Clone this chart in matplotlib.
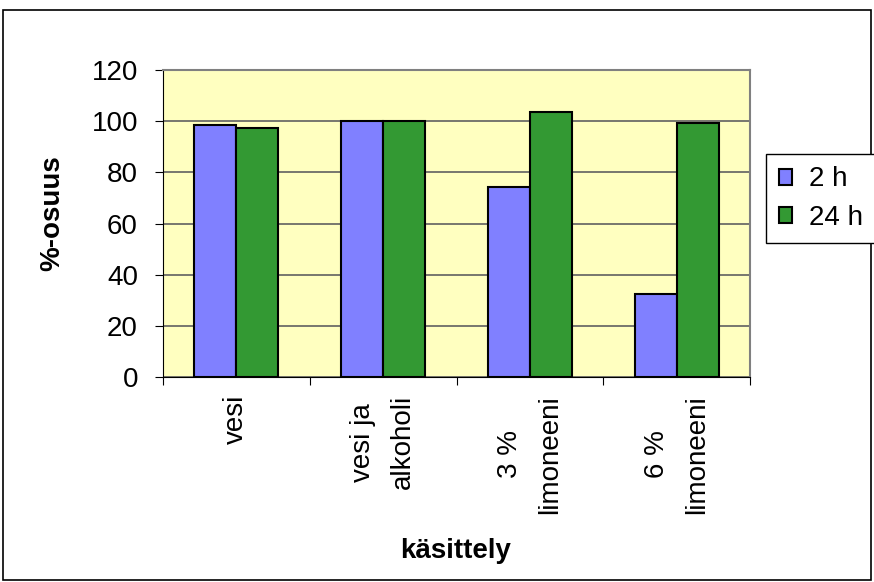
import matplotlib.pyplot as plt
import numpy as np
from matplotlib.patches import Rectangle

plt.rcParams['font.family'] = ['Liberation Sans', 'DejaVu Sans']

kasittely = ["vesi", "vesi ja\nalkoholi", "3 %\nlimoneeni", "6 %\nlimoneeni"]
h2 = [98.6, 100.0, 74.2, 32.4]
h24 = [97.2, 100.0, 103.5, 99.4]
sarjat = ["2 h", "24 h"]

W, H = 874, 582
fig = plt.figure(figsize=(W / 100, H / 100), dpi=100)
ax = fig.add_axes([163 / W, 1 - 377 / H, 587 / W, 307 / H])

# outer chart frame
fig.patches.append(Rectangle((3 / W, 2 / H), 868 / W, 570 / H, transform=fig.transFigure,
                             fill=False, edgecolor='black', linewidth=1.2))

ax.set_facecolor('#FFFFC0')
x = np.arange(len(kasittely))
w = 1 / 3.5
ax.bar(x - w / 2, h2, w, color='#8080FF', edgecolor='black', linewidth=1.5, label=sarjat[0], zorder=3)
ax.bar(x + w / 2, h24, w, color='#339933', edgecolor='black', linewidth=1.5, label=sarjat[1], zorder=3)

ax.set_xlim(-0.5, len(kasittely) - 0.5)
ax.set_ylim(0, 120)
ax.set_yticks(range(0, 121, 20))
ax.yaxis.grid(True, color='#606060', linewidth=1.2, zorder=1)
ax.set_axisbelow(True)

for s in ['top', 'right']:
    ax.spines[s].set_color('#808080')
    ax.spines[s].set_linewidth(1.5)
ax.spines['left'].set_color('black')
ax.spines['bottom'].set_color('black')

# category boundaries as major ticks, names on minor ticks
ax.set_xticks(np.arange(-0.5, len(kasittely)))
ax.set_xticklabels([])
ax.set_xticks(x, minor=True)
ax.set_xticklabels(kasittely, minor=True, rotation=90, ha='center', va='top',
                   multialignment='center', fontsize=20, linespacing=1.7)
ax.tick_params(axis='x', which='major', length=6, direction='out')
ax.tick_params(axis='x', which='minor', length=0, pad=13)
ax.tick_params(axis='y', length=6, labelsize=20, pad=12)

fig.text(52 / W, 1 - 213 / H, "%-osuus", rotation=90, fontsize=20, fontweight='bold',
         ha='center', va='center')
fig.text(456 / W, 1 - 551 / H, "käsittely", fontsize=20, fontweight='bold',
         ha='center', va='center')

leg = fig.legend(loc='upper left', bbox_to_anchor=(766 / W, 1 - 154 / H), fontsize=20,
                 fancybox=False, edgecolor='black', framealpha=1, handlelength=0.5,
                 handleheight=0.5, handletextpad=0.6, borderpad=0.45, labelspacing=0.45,
                 borderaxespad=0)
leg.get_frame().set_linewidth(1.0)

fig.savefig("out.png", dpi=100)
